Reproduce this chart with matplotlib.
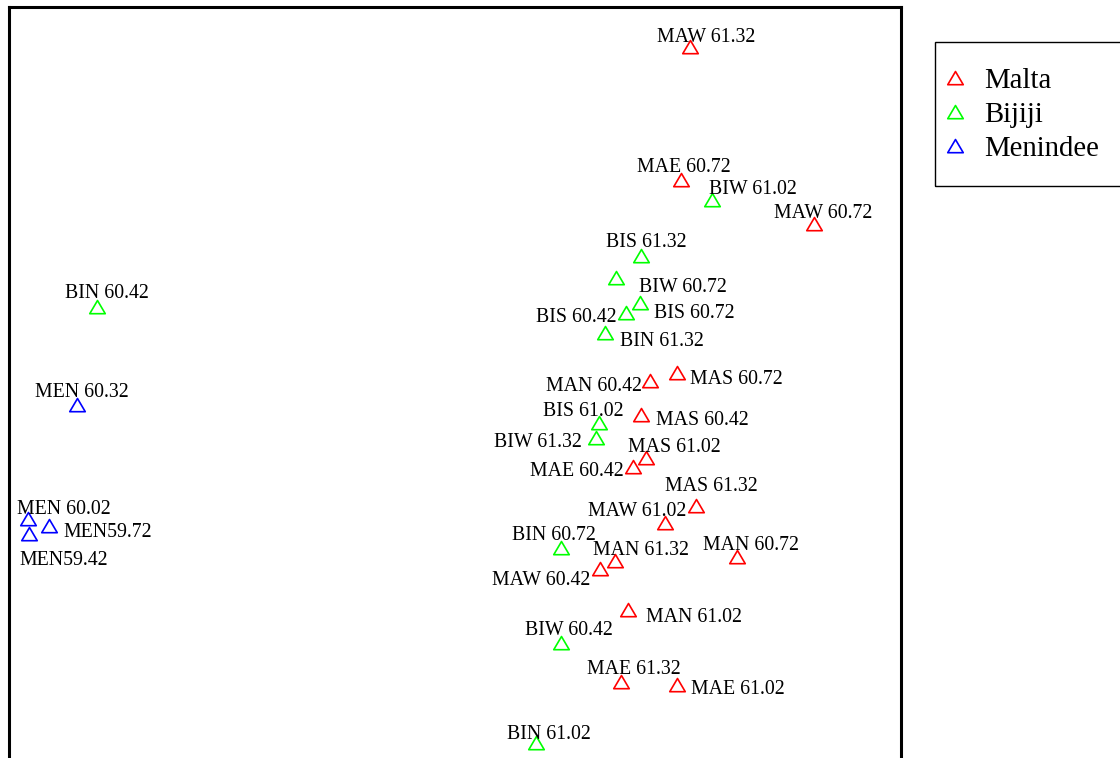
import matplotlib
matplotlib.use("Agg")
import matplotlib.pyplot as plt
from matplotlib.path import Path
from matplotlib.patches import Rectangle

# NMDS ordination scores, one entry per sample
malta_labels = ["MAW 61.32", "MAE 60.72", "MAW 60.72", "MAN 60.42", "MAS 60.72",
                "MAS 60.42", "MAS 61.02", "MAE 60.42", "MAS 61.32", "MAW 61.02",
                "MAN 60.72", "MAN 61.32", "MAW 60.42", "MAN 61.02", "MAE 61.32",
                "MAE 61.02"]
malta_x = [0.528, 0.508, 0.805, 0.438, 0.499, 0.418, 0.429, 0.400, 0.541, 0.470,
           0.633, 0.360, 0.326, 0.389, 0.373, 0.499]
malta_y = [0.760, 0.463, 0.364, 0.013, 0.031, -0.063, -0.160, -0.180, -0.267, -0.307,
           -0.381, -0.392, -0.410, -0.500, -0.663, -0.668]

bijiji_labels = ["BIW 61.02", "BIS 61.32", "BIW 60.72", "BIS 60.72", "BIS 60.42",
                 "BIN 61.32", "BIN 60.42", "BIS 61.02", "BIW 61.32", "BIN 60.72",
                 "BIW 60.42", "BIN 61.02"]
bijiji_x = [0.577, 0.418, 0.362, 0.414, 0.384, 0.337, -0.802, 0.322, 0.317, 0.237,
            0.237, 0.181]
bijiji_y = [0.418, 0.293, 0.243, 0.187, 0.165, 0.120, 0.178, -0.081, -0.115, -0.361,
            -0.574, -0.800]

menindee_labels = ["MEN 60.32", "MEN 60.02", "MEN59.72", "MEN59.42"]
menindee_x = [-0.847, -0.956, -0.909, -0.954]
menindee_y = [-0.041, -0.298, -0.312, -0.330]

# where each label sits relative to its point (pixels, right / up)
malta_shift = [(16, 12), (2, 14), (9, 13), (-56, -4), (59, -5), (61, -4), (28, 12),
               (-56, -3), (15, 21), (-27, 14), (14, 13), (26, 13), (-59, -9),
               (66, -6), (13, 15), (60, -3)]
bijiji_shift = [(41, 13), (5, 15), (67, -7), (55, -8), (-50, -3), (57, -7), (10, 16),
                (-15, 13), (-58, -3), (-7, 14), (8, 14), (13, 11)]
menindee_shift = [(5, 14), (36, 12), (58, -5), (35, -25)]

groups = [
    ("Malta", "#ff0000", malta_labels, malta_x, malta_y, malta_shift),
    ("Bijiji", "#00ff00", bijiji_labels, bijiji_x, bijiji_y, bijiji_shift),
    ("Menindee", "#0000ff", menindee_labels, menindee_x, menindee_y, menindee_shift),
]

plt.rcParams["font.family"] = ["Liberation Serif", "DejaVu Serif"]

DPI = 100
W, H = 1120, 758
fig = plt.figure(figsize=(W / DPI, H / DPI), dpi=DPI)

# axes box in pixels; the bottom edge runs past the figure
left, right, top = 8.7, 901.0, 7.3
xlim = (-1.0, 1.0)
ylim = (-0.85, 0.85)
scale = (right - left) / (xlim[1] - xlim[0])
bottom = top + (ylim[1] - ylim[0]) * scale
ax = fig.add_axes([left / W, (H - bottom) / H, (right - left) / W, (bottom - top) / H])

# open triangle, a bit wider than tall
tri = Path([(-1, -0.8), (1, -0.8), (0, 0.9), (-1, -0.8)],
           [Path.MOVETO, Path.LINETO, Path.LINETO, Path.CLOSEPOLY])
px2pt = 72.0 / DPI

for name, color, labels, xs, ys, shifts in groups:
    ax.plot(xs, ys, linestyle="none", marker=tri, markersize=15.5 * px2pt,
            markerfacecolor="none", markeredgecolor=color, markeredgewidth=1.2,
            label=name)
    for lab, x, y, (dx, dy) in zip(labels, xs, ys, shifts):
        ax.annotate(lab, (x, y), xytext=(dx * px2pt, (dy - 2) * px2pt),
                    textcoords="offset points", ha="center", va="center",
                    fontsize=14.3, color="black")

ax.set_xlim(*xlim)
ax.set_ylim(*ylim)
ax.set_xticks([])
ax.set_yticks([])
for sp in ax.spines.values():
    sp.set_linewidth(2.2)

# legend entries without frame; the box is drawn separately
leg = fig.legend(loc="upper left", bbox_to_anchor=(955 / W, 1 - 68 / H),
                 borderaxespad=0, frameon=False, fontsize=20.7,
                 handlelength=0.0, handletextpad=1.0, borderpad=0.0,
                 labelspacing=0.28, numpoints=1)
fig.patches.append(Rectangle((935 / W, 1 - 186 / H), 200 / W, 144 / H,
                             transform=fig.transFigure, fill=False,
                             edgecolor="black", linewidth=1.0))

fig.savefig("out.png", dpi=DPI)
